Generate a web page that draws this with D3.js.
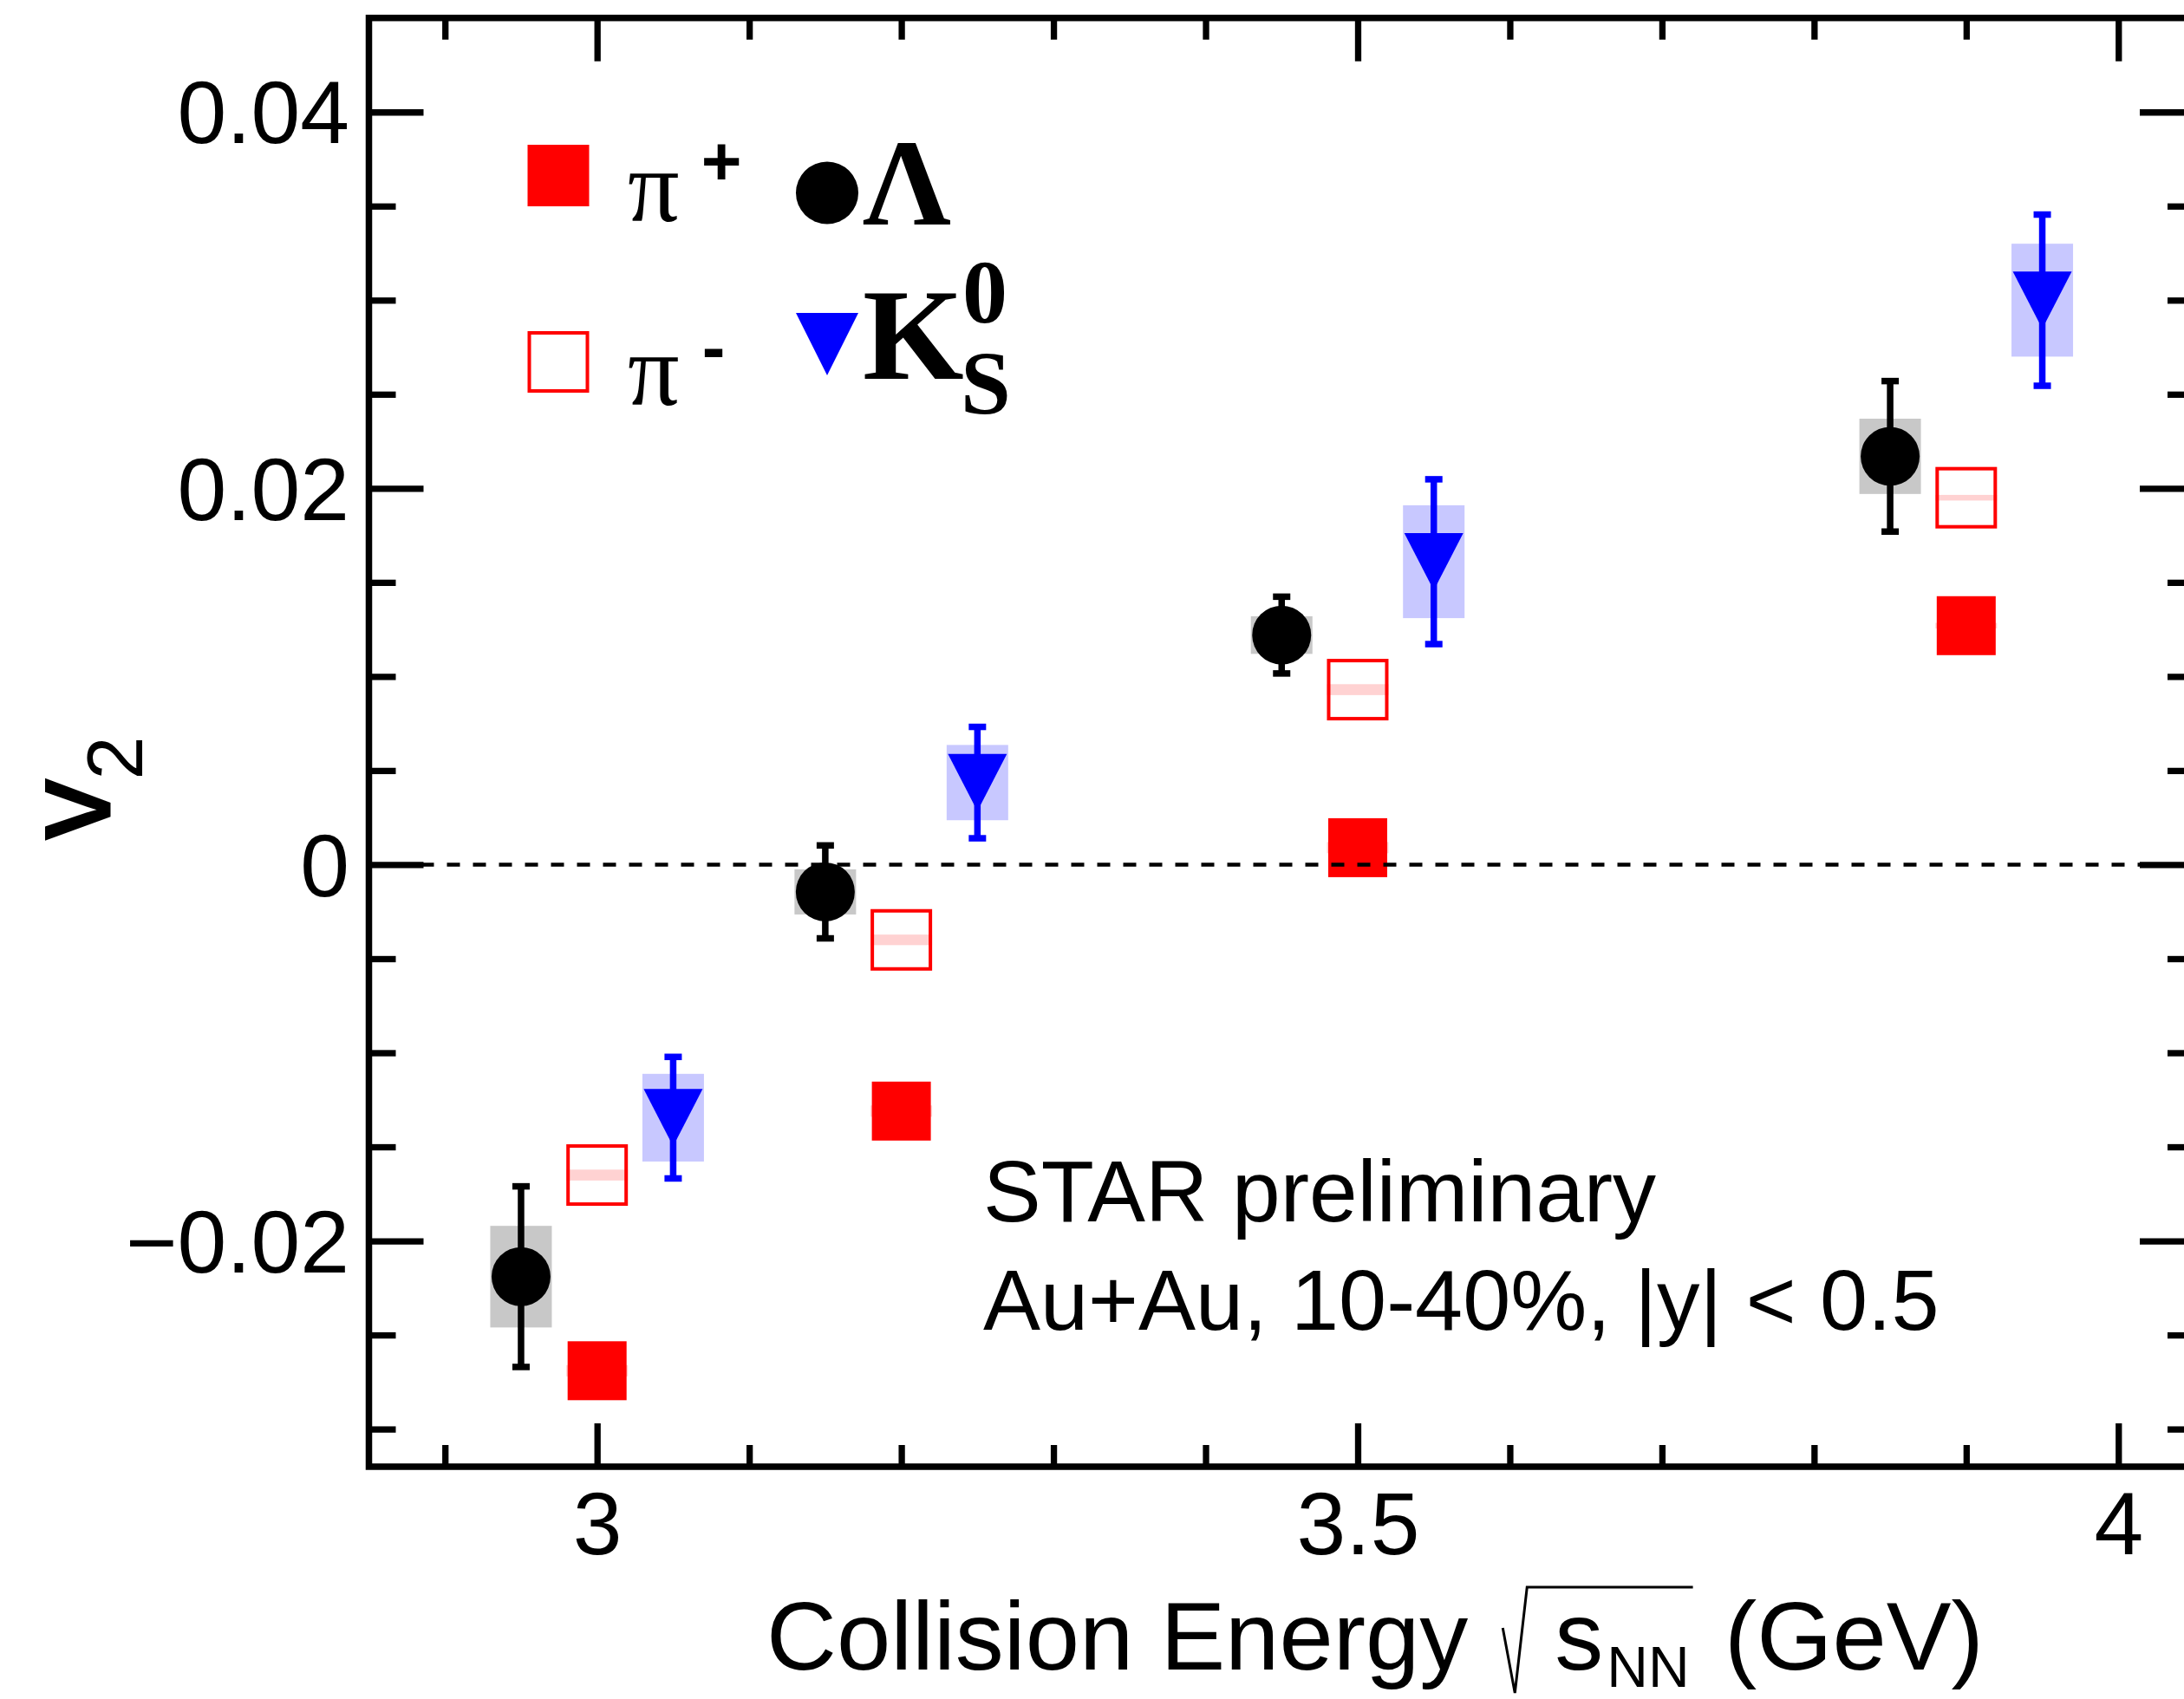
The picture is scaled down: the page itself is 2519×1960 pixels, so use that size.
<!DOCTYPE html>
<html>
<head>
<meta charset="utf-8">
<script src="https://cdn.jsdelivr.net/npm/d3@7"></script>
<style>
  html, body { margin: 0; padding: 0; background: #fff; }
  svg { display: block; }
</style>
</head>
<body>
<svg id="chart" width="2519" height="1960"></svg>
<script>
// ---- data -------------------------------------------------------------
// collision energies, sqrt(s_NN) in GeV
const energies = [3.0, 3.2, 3.5, 3.9];
// species are drawn slightly shifted in x so they do not overlap
const lambdaShift = -0.05;
const k0sShift = 0.05;

const piPlusV2   = [-0.0269, -0.0131, 0.0009, 0.0127];
const piPlusSys  = [0.0003, 0.0003, 0.0003, 0.00015];
const piMinusV2  = [-0.0165, -0.0040, 0.0093, 0.0195];
const piMinusSys = [0.00029, 0.00028, 0.00029, 0.00015];
const lambdaV2   = [-0.0219, -0.00145, 0.0122, 0.0217];
const lambdaStat = [0.0048, 0.00247, 0.00204, 0.0040];
const lambdaSys  = [0.0027, 0.0012, 0.0010, 0.0020];
const k0sV2      = [-0.01345, 0.00436, 0.0161, 0.0300];
const k0sStat    = [0.00323, 0.00296, 0.00438, 0.00455];
const k0sSys     = [0.00233, 0.0020, 0.0030, 0.0030];

const xMajorTicks = [3, 3.5, 4];
const xTickLabels = ["3", "3.5", "4"];
const xMinorTicks = d3.range(29, 41).map(i => i / 10).filter(v => !xMajorTicks.includes(v));
const yMajorTicks = [-0.02, 0, 0.02, 0.04];
const yTickLabels = ["\u22120.02", "0", "0.02", "0.04"];
const yMinorTicks = d3.range(-30, 45, 5).map(i => i / 1000).filter(v => !yMajorTicks.some(m => Math.abs(m - v) < 1e-9));

// ---- layout -----------------------------------------------------------
const W = 2519, H = 1960;
const frame = { left: 425.5, right: 2531, top: 20.7, bottom: 1692 };
const SANS = "'Liberation Sans', Arial, Helvetica, sans-serif";
const SERIF = "'Liberation Serif', 'Times New Roman', serif";

const x = d3.scaleLinear().domain([2.85, 4.05]).range([frame.left, frame.right]);
const y = d3.scaleLinear().domain([-0.032, 0.045]).range([frame.bottom, frame.top]);

const svg = d3.select("#chart");
svg.append("rect").attr("width", W).attr("height", H).attr("fill", "#fff");

function makeSeries(vals, shift, stat, sys) {
  return energies.map((e, i) => ({
    x: e + shift, v: vals[i],
    stat: stat ? stat[i] : 0,
    sys: sys ? sys[i] : 0
  }));
}
const piPlus  = makeSeries(piPlusV2, 0, null, piPlusSys);
const piMinus = makeSeries(piMinusV2, 0, null, piMinusSys);
const lambda  = makeSeries(lambdaV2, lambdaShift, lambdaStat, lambdaSys);
const k0s     = makeSeries(k0sV2, k0sShift, k0sStat, k0sSys);

const plot = svg.append("g");

// systematic uncertainty boxes
const boxW = 71;
function sysBoxes(data, fill) {
  plot.append("g").selectAll("rect").data(data).join("rect")
    .attr("x", d => x(d.x) - boxW / 2)
    .attr("width", boxW)
    .attr("y", d => y(d.v + d.sys))
    .attr("height", d => y(d.v - d.sys) - y(d.v + d.sys))
    .attr("fill", fill);
}
sysBoxes(lambda, "#c8c8c8");
sysBoxes(k0s, "#c8c8ff");
sysBoxes(piMinus, "#ffd2d2");
sysBoxes(piPlus, "#ffd2d2");

// statistical error bars with caps
const barW = 7.5, capW = 20, capH = 7.5;
function errorBars(data, color) {
  const g = plot.append("g").attr("fill", color);
  g.selectAll("rect.bar").data(data).join("rect").attr("class", "bar")
    .attr("x", d => x(d.x) - barW / 2).attr("width", barW)
    .attr("y", d => y(d.v + d.stat))
    .attr("height", d => y(d.v - d.stat) - y(d.v + d.stat));
  g.selectAll("rect.capHi").data(data).join("rect").attr("class", "capHi")
    .attr("x", d => x(d.x) - capW / 2).attr("width", capW)
    .attr("y", d => y(d.v + d.stat) - capH / 2).attr("height", capH);
  g.selectAll("rect.capLo").data(data).join("rect").attr("class", "capLo")
    .attr("x", d => x(d.x) - capW / 2).attr("width", capW)
    .attr("y", d => y(d.v - d.stat) - capH / 2).attr("height", capH);
}
errorBars(lambda, "#000");
errorBars(k0s, "#0000ff");

// markers
const sq = 68;
plot.append("g").selectAll("rect").data(piPlus).join("rect")
  .attr("x", d => x(d.x) - sq / 2).attr("y", d => y(d.v) - sq / 2)
  .attr("width", sq).attr("height", sq).attr("fill", "#ff0000");

const osq = 67;
plot.append("g").selectAll("rect").data(piMinus).join("rect")
  .attr("x", d => x(d.x) - osq / 2).attr("y", d => y(d.v) - osq / 2)
  .attr("width", osq).attr("height", osq)
  .attr("fill", "none").attr("stroke", "#ff0000").attr("stroke-width", 4);

plot.append("g").selectAll("circle").data(lambda).join("circle")
  .attr("cx", d => x(d.x)).attr("cy", d => y(d.v)).attr("r", 34).attr("fill", "#000");

function triDown(cx, cy, hw, hh) {
  return `M${cx - hw},${cy - hh}L${cx + hw},${cy - hh}L${cx},${cy + hh}Z`;
}
plot.append("g").selectAll("path").data(k0s).join("path")
  .attr("d", d => triDown(x(d.x), y(d.v), 34, 33)).attr("fill", "#0000ff");

// zero reference line
svg.append("line")
  .attr("x1", frame.left).attr("x2", frame.right)
  .attr("y1", y(0)).attr("y2", y(0))
  .attr("stroke", "#000").attr("stroke-width", 4.5)
  .attr("stroke-dasharray", "15 15");

// ---- axes -------------------------------------------------------------
const tickStroke = 7.3;
function styleAxis(g) {
  g.select(".domain").remove();
  g.selectAll(".tick line").attr("stroke", "#000").attr("stroke-width", tickStroke);
  g.attr("font-family", SANS).attr("font-size", 102);
  g.selectAll(".tick text").attr("fill", "#000");
}

svg.append("g").attr("transform", `translate(${frame.left},0)`)
  .call(d3.axisLeft(y).tickValues(yMajorTicks).tickFormat((d, i) => yTickLabels[i])
    .tickSizeInner(-63).tickSizeOuter(0).tickPadding(22.5))
  .call(styleAxis)
  .call(g => g.selectAll(".tick text").attr("dy", "0.35em"));
svg.append("g").attr("transform", `translate(${frame.left},0)`)
  .call(d3.axisLeft(y).tickValues(yMinorTicks).tickFormat("").tickSizeInner(-31).tickSizeOuter(0))
  .call(styleAxis);
svg.append("g").attr("transform", `translate(${frame.right},0)`)
  .call(d3.axisRight(y).tickValues(yMajorTicks).tickFormat("").tickSizeInner(-63).tickSizeOuter(0))
  .call(styleAxis);
svg.append("g").attr("transform", `translate(${frame.right},0)`)
  .call(d3.axisRight(y).tickValues(yMinorTicks).tickFormat("").tickSizeInner(-31).tickSizeOuter(0))
  .call(styleAxis);

svg.append("g").attr("transform", `translate(0,${frame.bottom})`)
  .call(d3.axisBottom(x).tickValues(xMajorTicks).tickFormat((d, i) => xTickLabels[i])
    .tickSizeInner(-50).tickSizeOuter(0).tickPadding(29))
  .call(styleAxis);
svg.append("g").attr("transform", `translate(0,${frame.bottom})`)
  .call(d3.axisBottom(x).tickValues(xMinorTicks).tickFormat("").tickSizeInner(-25).tickSizeOuter(0))
  .call(styleAxis);
svg.append("g").attr("transform", `translate(0,${frame.top})`)
  .call(d3.axisTop(x).tickValues(xMajorTicks).tickFormat("").tickSizeInner(-50).tickSizeOuter(0))
  .call(styleAxis);
svg.append("g").attr("transform", `translate(0,${frame.top})`)
  .call(d3.axisTop(x).tickValues(xMinorTicks).tickFormat("").tickSizeInner(-25).tickSizeOuter(0))
  .call(styleAxis);

// frame
svg.append("rect")
  .attr("x", frame.left).attr("y", frame.top)
  .attr("width", frame.right - frame.left).attr("height", frame.bottom - frame.top)
  .attr("fill", "none").attr("stroke", "#000").attr("stroke-width", 7.5);

// ---- axis titles ------------------------------------------------------
// y title: v with subscript 2, reading bottom to top
const yTitle = svg.append("text")
  .attr("transform", "translate(126,968) rotate(-90)")
  .attr("font-family", SANS).attr("fill", "#000")
  .attr("stroke", "#000").attr("stroke-width", 3);
yTitle.append("tspan").attr("font-size", 137).text("v");
yTitle.append("tspan").attr("font-size", 90).attr("dy", 37.5).attr("stroke-width", 0).text("2");

// x title with a drawn radical over s_NN
const tb = 1926;
const xt1 = svg.append("text").attr("x", 884).attr("y", tb)
  .attr("font-family", SANS).attr("font-size", 112).text("Collision Energy");
const w1 = xt1.node().getComputedTextLength();
const rx = 884 + w1 + 40;
const sx = 884 + w1 + 100;
const xt2 = svg.append("text").attr("x", sx).attr("y", tb)
  .attr("font-family", SANS).attr("font-size", 112).text("s");
const w2 = xt2.node().getComputedTextLength();
const xt3 = svg.append("text").attr("x", sx + w2 + 4).attr("y", tb + 20)
  .attr("font-family", SANS).attr("font-size", 66).text("NN");
const w3 = xt3.node().getComputedTextLength();
svg.append("path")
  .attr("d", `M${rx},${tb - 48}L${rx + 14},${tb + 27}L${rx + 28},${tb - 95}L${sx + w2 + w3 + 8},${tb - 95}`)
  .attr("fill", "none").attr("stroke", "#000").attr("stroke-width", 3);
svg.append("text").attr("x", 1989).attr("y", tb)
  .attr("font-family", SANS).attr("font-size", 112).text("(GeV)");

// ---- legend -----------------------------------------------------------
const lg = svg.append("g");
lg.append("rect").attr("x", 644 - 35.5).attr("y", 202.5 - 35.5).attr("width", 71).attr("height", 71).attr("fill", "#ff0000");
lg.append("rect").attr("x", 644 - 33.5).attr("y", 417.5 - 33.5).attr("width", 67).attr("height", 67)
  .attr("fill", "none").attr("stroke", "#ff0000").attr("stroke-width", 4);
lg.append("text").attr("x", 724).attr("y", 255).attr("font-family", SERIF).attr("font-size", 118).text("\u03c0");
lg.append("text").attr("x", 832).attr("y", 213).attr("text-anchor", "middle")
  .attr("font-family", SANS).attr("font-weight", "bold").attr("font-size", 80).text("+");
lg.append("text").attr("x", 724).attr("y", 467).attr("font-family", SERIF).attr("font-size", 118).text("\u03c0");
lg.append("text").attr("x", 823).attr("y", 428).attr("text-anchor", "middle")
  .attr("font-family", SANS).attr("font-weight", "bold").attr("font-size", 80).text("-");

lg.append("circle").attr("cx", 954).attr("cy", 222.5).attr("r", 36).attr("fill", "#000");
lg.append("text").attr("x", 995).attr("y", 259).attr("font-family", SERIF).attr("font-weight", "bold")
  .attr("font-size", 142).text("\u039b");
lg.append("path").attr("d", triDown(954, 397, 36, 36)).attr("fill", "#0000ff");
lg.append("text").attr("x", 995).attr("y", 437).attr("font-family", SERIF).attr("font-weight", "bold")
  .attr("font-size", 150).text("K");
lg.append("text").attr("x", 1110).attr("y", 372).attr("font-family", SERIF).attr("font-weight", "bold")
  .attr("font-size", 104).text("0");
lg.append("text").attr("x", 1108).attr("y", 477).attr("font-family", SERIF).attr("font-weight", "bold")
  .attr("font-size", 104).text("S");

// ---- annotations ------------------------------------------------------
svg.append("text").attr("x", 1134).attr("y", 1409).attr("font-family", SANS).attr("font-size", 100)
  .text("STAR preliminary");
svg.append("text").attr("x", 1134).attr("y", 1534).attr("font-family", SANS).attr("font-size", 99)
  .text("Au+Au, 10-40%, |y| < 0.5");
</script>
</body>
</html>
